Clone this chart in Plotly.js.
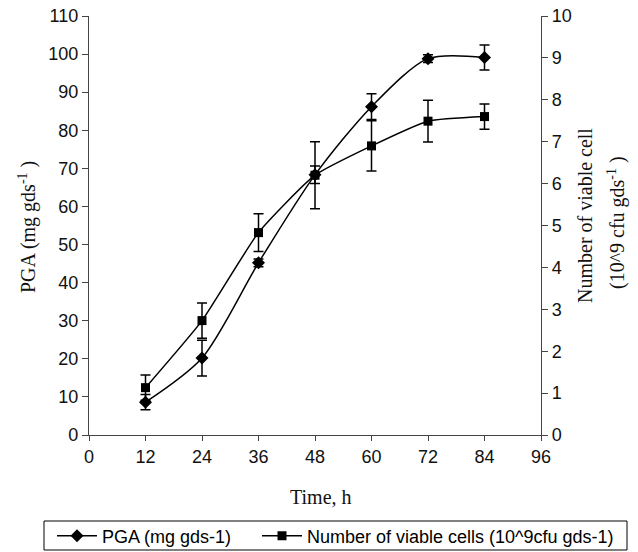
<!DOCTYPE html>
<html><head><meta charset="utf-8">
<script src="https://cdn.plot.ly/plotly-3.0.1.min.js"></script>
<style>html,body{margin:0;padding:0;background:#fff}#chart{width:638px;height:552px}</style>
</head><body><div id="chart"></div>
<script>
const timeH = [12, 24, 36, 48, 60, 72, 84];
const pga = [8.6, 20.2, 45.2, 68.3, 86.2, 98.8, 99.1];
const pgaErr = [2.0, 4.7, 1.0, 2.3, 3.4, 1.0, 3.3];
const cells = [1.13, 2.73, 4.83, 6.2, 6.9, 7.49, 7.6];
const cellsErr = [0.3, 0.42, 0.45, 0.8, 0.6, 0.5, 0.3];
const xTicks = [0, 12, 24, 36, 48, 60, 72, 84, 96];

const serif = 'Liberation Serif, Times New Roman, serif';
const sans = 'Liberation Sans, Arial, sans-serif';

const traces = [
  {x: timeH, y: pga, name: 'PGA (mg gds-1)', type: 'scatter', mode: 'lines+markers',
   line: {color: '#000', width: 1.5, shape: 'spline', smoothing: 0.8},
   marker: {symbol: 'diamond', size: 10, color: '#000'},
   error_y: {type: 'data', array: pgaErr, visible: true, color: '#000', thickness: 1.5, width: 5},
   yaxis: 'y', legend: 'legend'},
  {x: timeH, y: cells, name: 'Number of viable cells (10^9cfu gds-1)', type: 'scatter', mode: 'lines+markers',
   line: {color: '#000', width: 1.5, shape: 'spline', smoothing: 0.5},
   marker: {symbol: 'square', size: 9, color: '#000'},
   error_y: {type: 'data', array: cellsErr, visible: true, color: '#000', thickness: 1.5, width: 5},
   yaxis: 'y2', legend: 'legend2'}
];

const px = v => (v - 89) / 452;
const py = v => (435 - v) / 419;

const legendBase = {orientation: 'h', xanchor: 'left', yanchor: 'middle', y: py(536),
  borderwidth: 0, bgcolor: 'rgba(0,0,0,0)', font: {family: sans, size: 18, color: '#000'}, itemwidth: 40};

const layout = {
  width: 638, height: 552,
  margin: {l: 89, r: 97, t: 16, b: 117, autoexpand: false},
  paper_bgcolor: '#fff', plot_bgcolor: '#fff',
  showlegend: true,
  legend: Object.assign({}, legendBase, {x: px(52)}),
  legend2: Object.assign({}, legendBase, {x: px(257)}),
  xaxis: {range: [0, 96], tickvals: xTicks, ticktext: xTicks.map(String), showgrid: false, zeroline: false,
    showline: true, linecolor: '#444', linewidth: 1.2, ticks: 'outside', ticklen: 5, tickcolor: '#444',
    tickfont: {family: sans, size: 18, color: '#111'}},
  yaxis: {range: [0, 110], dtick: 10, showgrid: false, zeroline: false,
    showline: true, linecolor: '#444', linewidth: 1.2, ticks: 'outside', ticklen: 6, tickcolor: '#444',
    tickfont: {family: sans, size: 18, color: '#111'}},
  yaxis2: {range: [0, 10], dtick: 1, overlaying: 'y', side: 'right', showgrid: false, zeroline: false,
    showline: true, linecolor: '#444', linewidth: 1.2, ticks: 'outside', ticklen: 6, tickcolor: '#444',
    tickfont: {family: sans, size: 18, color: '#111'}},
  shapes: [
    {type: 'rect', xref: 'paper', yref: 'paper', x0: px(44), x1: px(627), y0: py(521), y1: py(550),
     line: {color: '#000', width: 1}, fillcolor: 'rgba(0,0,0,0)', layer: 'below'}
  ],
  annotations: [
    {text: 'Time, h', xref: 'paper', yref: 'paper', x: px(321), y: py(497), xanchor: 'center', yanchor: 'middle',
     showarrow: false, font: {family: serif, size: 20, color: '#111'}},
    {text: 'PGA (mg gds<sup>-1</sup> )', xref: 'paper', yref: 'paper', x: px(27), y: py(227),
     xanchor: 'center', yanchor: 'middle', textangle: -90, showarrow: false, font: {family: serif, size: 20, color: '#111'}},
    {text: 'Number of viable cell', xref: 'paper', yref: 'paper', x: px(585), y: py(216),
     xanchor: 'center', yanchor: 'middle', textangle: -90, showarrow: false, font: {family: serif, size: 20, color: '#111'}},
    {text: '(10^9 cfu gds<sup>-1</sup> )', xref: 'paper', yref: 'paper', x: px(616), y: py(223),
     xanchor: 'center', yanchor: 'middle', textangle: -90, showarrow: false, font: {family: serif, size: 20, color: '#111'}}
  ]
};

Plotly.newPlot('chart', traces, layout, {displayModeBar: false, staticPlot: true});
</script></body></html>
